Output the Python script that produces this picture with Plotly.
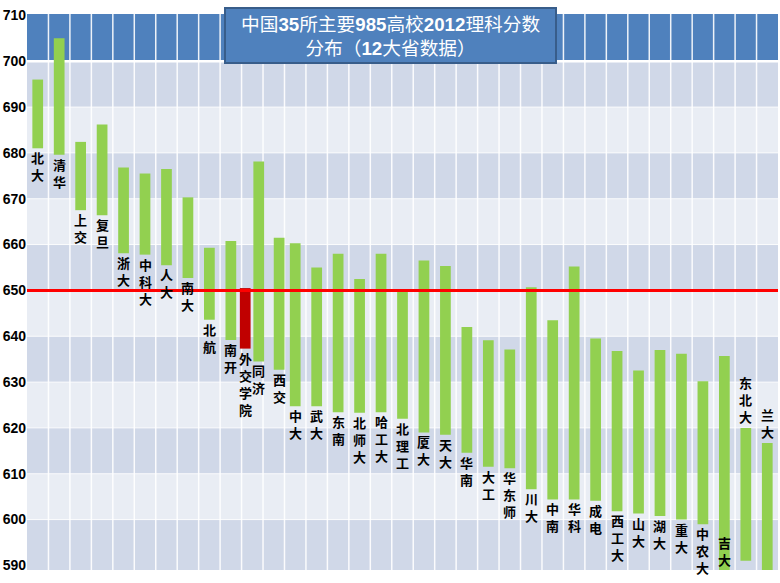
import plotly.graph_objects as go

# ---------------- data ----------------
names = ["北大", "清华", "上交", "复旦", "浙大", "中科大", "人大", "南大", "北航", "南开",
         "同济", "西交", "中大", "武大", "东南", "北师大", "哈工大", "北理工", "厦大", "天大",
         "华南", "大工", "华东师", "川大", "中南", "华科", "成电", "西工大", "山大", "湖大",
         "重大", "中农大", "吉大", "东北大", "兰大"]
high = [696, 705, 682.4, 686.2, 676.8, 675.5, 676.5, 670.3, 659.3, 660.8,
        678.1, 661.5, 660.3, 655, 658, 652.5, 658, 650, 656.5, 655.3,
        642, 639.1, 637.1, 650.7, 643.5, 655.2, 639.5, 636.8, 632.5, 637,
        636.2, 630.2, 635.7, 620, 616.7]
low = [681, 679.6, 667.5, 666.4, 658.1, 657.8, 655.5, 652.7, 643.6, 639.2,
       634.5, 632.7, 624.7, 624.7, 623.4, 623.3, 623.4, 622, 619, 618.5,
       614.6, 611.5, 611.2, 606.6, 604.4, 604.4, 604.1, 601.8, 601.3, 600.8,
       600, 599, 588, 591, 588]

# inserted (highlighted) school, drawn between 南开 and 同济
extra_name = "外交学院"
extra_after = "南开"
extra_high = 650.5
extra_low = 637.3

ref_score = 650
y_ticks = list(range(590, 711, 10))
title_text = ("中国<b>35</b>所主要<b>985</b>高校<b>2012</b>理科分数<br>"
              "分布（<b>12</b>大省数据）")

# ---------------- styling ----------------
GREEN = "#92d050"
RED_BAR = "#c00000"
BAND_DARK = "#d0d8e8"
BAND_LIGHT = "#e9edf4"
HEADER = "#4f81bd"
Y_MIN, Y_MAX = 589, 710.3
BAR_W = 0.5
LABEL_ABOVE = {"东北大", "兰大"}
LABEL_FLOOR = 597
NUDGE = {"同济": 0.3, "西交": 0.25}
FONT_STACK = "Liberation Sans, Noto Sans CJK SC"

# plot-area geometry in pixels
L, R, T, B = 27, 2, 14, 13
PW, PH = 780 - L - R, 583 - T - B


def px_x(p):
    return (p - L) / PW


def px_y(p):
    return (583 - B - p) / PH


n = len(names)
xs = list(range(n))
offsets = [-BAR_W / 2 + NUDGE.get(nm, 0) for nm in names]

fig = go.Figure()
fig.add_trace(go.Bar(
    x=xs, y=[h - l for h, l in zip(high, low)], base=low,
    width=BAR_W, offset=offsets,
    marker=dict(color=GREEN, line=dict(width=0)),
    hovertext=names, showlegend=False,
))
ex_x = names.index(extra_after) + 0.67
fig.add_trace(go.Bar(
    x=[ex_x], y=[extra_high - extra_low], base=[extra_low],
    width=BAR_W, offset=-BAR_W / 2,
    marker=dict(color=RED_BAR, line=dict(width=0)),
    hovertext=[extra_name], showlegend=False,
))

shapes = []
# background table bands
for y0 in range(590, 700, 10):
    col = BAND_DARK if ((y0 - 590) // 10) % 2 == 0 else BAND_LIGHT
    shapes.append(dict(type="rect", xref="paper", yref="y", x0=0, x1=1,
                       y0=(Y_MIN if y0 == 590 else y0), y1=y0 + 10,
                       fillcolor=col, line=dict(width=0), layer="below"))
shapes.append(dict(type="rect", xref="paper", yref="y", x0=0, x1=1, y0=700, y1=Y_MAX,
                   fillcolor=HEADER, line=dict(width=0), layer="below"))
# white table lines
for yv in range(600, 700, 10):
    shapes.append(dict(type="line", xref="paper", yref="y", x0=0, x1=1, y0=yv, y1=yv,
                       line=dict(color="rgba(255,255,255,0.8)", width=1), layer="below"))
shapes.append(dict(type="line", xref="paper", yref="y", x0=0, x1=1, y0=700, y1=700,
                   line=dict(color="white", width=2.5), layer="below"))
for k in range(n - 1):
    shapes.append(dict(type="line", xref="x", yref="y", x0=k + 0.5, x1=k + 0.5,
                       y0=Y_MIN, y1=Y_MAX,
                       line=dict(color="rgba(255,255,255,0.9)", width=1.5), layer="below"))
# reference line
shapes.append(dict(type="line", xref="paper", yref="y", x0=0, x1=1, y0=ref_score, y1=ref_score,
                   line=dict(color="#ff0000", width=3), layer="above"))
# title box
shapes.append(dict(type="rect", xref="paper", yref="paper",
                   x0=px_x(225), x1=px_x(556), y0=px_y(63), y1=px_y(8),
                   fillcolor=HEADER, line=dict(color="#385d8a", width=2), layer="above"))

annotations = []
LABEL_FONT = dict(family=FONT_STACK, size=13, color="black", weight="bold")
GAP = 2


def add_label(text, x, lo, hi):
    stacked = "<br>".join(text)
    if text in LABEL_ABOVE:
        annotations.append(dict(x=x, y=hi, xref="x", yref="y", text=stacked, showarrow=False,
                                yanchor="bottom", xanchor="center", borderpad=0,
                                yshift=GAP, font=LABEL_FONT))
    else:
        annotations.append(dict(x=x, y=max(lo, LABEL_FLOOR), xref="x", yref="y", text=stacked,
                                showarrow=False, yanchor="top", xanchor="center", borderpad=0,
                                yshift=-GAP, font=LABEL_FONT))


for i, nm in enumerate(names):
    add_label(nm, xs[i] + NUDGE.get(nm, 0), low[i], high[i])
add_label(extra_name, ex_x, extra_low, extra_high)

annotations.append(dict(x=px_x(390.5), y=px_y(36.5), xref="paper", yref="paper",
                        text=title_text, showarrow=False, xanchor="center", yanchor="middle",
                        font=dict(family=FONT_STACK, size=18.7, color="white")))

fig.update_layout(
    width=780, height=583,
    margin=dict(l=L, r=R, t=T, b=B, autoexpand=False),
    paper_bgcolor="white", plot_bgcolor="white",
    barmode="overlay",
    shapes=shapes, annotations=annotations,
    xaxis=dict(range=[-0.5, n - 0.5], showticklabels=False, showgrid=False,
               zeroline=False, showline=False, ticks="", automargin=False),
    yaxis=dict(range=[Y_MIN, Y_MAX], tickvals=y_ticks, showgrid=False, zeroline=False,
               showline=False, ticks="", automargin=False, ticklabelstandoff=0,
               tickfont=dict(family="Liberation Sans", size=14, color="black", weight="bold")),
)

fig.write_html("out.html", config={"displayModeBar": False},
               post_script="document.body.style.margin='0';document.body.style.overflow='hidden';")
